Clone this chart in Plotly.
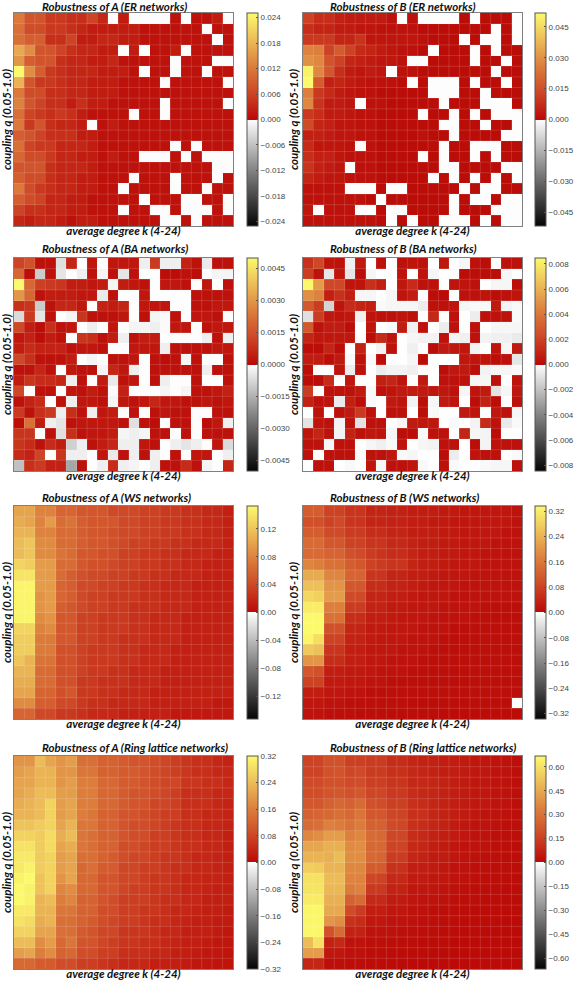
import numpy as np
import plotly.graph_objects as go

W = -0.3  # cell just below zero (drawn white)

k_values = list(range(4, 25))
q_values = [round(1.0 - 0.05 * i, 2) for i in range(20)]  # top row first

# ER, A (units 0.001)
er_a = [
[12,8,8,5,5,4,4,6,3,W,2,W,W,W,W,1,W,1,1,2,W],
[11,7,7,5,5,4,3,2,2,2,2,2,1,1,1,1,1,1,W,1,1],
[11,9,9,4,4,6,2,2,3,3,2,2,1,1,1,1,1,1,1,W,1],
[17,14,8,8,6,4,3,3,2,2,W,2,W,1,1,2,W,1,1,1,1],
[15,9,8,8,4,3,3,2,2,3,1,1,1,1,1,W,1,1,1,W,W],
[25,14,9,5,4,3,3,3,2,2,2,1,W,1,1,W,1,1,W,1,1],
[18,8,5,5,4,3,3,2,2,2,1,1,1,1,W,1,1,1,1,1,W],
[12,7,7,4,4,3,3,2,2,2,1,1,1,1,1,1,1,1,1,1,1],
[13,8,6,4,4,2,4,2,2,1,1,1,1,1,W,1,1,1,1,1,W],
[11,6,5,4,5,4,2,1,1,1,1,W,1,1,W,1,1,1,1,1,1],
[12,5,8,4,3,3,2,W,1,2,1,1,1,1,1,1,1,1,1,1,1],
[9,8,6,4,4,4,2,2,1,1,1,1,1,1,1,1,1,1,1,1,1],
[11,6,5,5,3,3,3,2,1,1,1,1,1,1,1,W,1,W,1,1,1],
[10,7,7,5,3,3,2,2,1,2,1,1,W,W,W,1,W,1,W,W,W],
[8,8,8,4,3,3,3,2,1,1,1,1,1,1,1,1,1,1,1,W,W],
[9,7,7,4,3,3,2,2,1,1,1,W,1,1,1,W,1,1,1,W,1],
[12,7,5,4,3,3,2,2,1,1,W,1,1,1,1,W,1,1,W,1,1],
[9,7,6,3,3,2,2,1,1,1,1,1,W,1,1,1,W,W,1,1,W],
[6,4,4,3,3,2,2,1,1,1,W,1,1,W,W,1,W,W,W,1,W],
[3,2,3,3,2,1,2,2,1,1,1,1,1,1,W,W,1,W,1,1,1],
]

# ER, B (units 0.001)
er_b = [
[12,8,8,5,4,4,4,4,2,W,2,W,W,W,W,1,W,1,1,1,W],
[8,6,6,4,4,3,3,2,2,2,2,1,1,1,1,1,1,1,W,1,W],
[10,10,10,6,6,9,3,3,3,3,3,2,1,1,1,W,1,W,W,1,W],
[27,26,12,18,12,7,6,4,3,2,2,1,W,1,1,1,W,1,W,1,1],
[30,28,16,12,6,5,4,3,3,2,W,W,1,1,1,1,W,1,1,W,1],
[50,28,17,8,4,3,4,3,W,2,2,1,1,1,1,1,1,1,W,1,1],
[52,18,5,6,4,3,2,2,2,1,W,1,W,W,W,1,W,1,1,W,1],
[26,10,7,4,3,2,2,1,1,1,1,1,W,W,W,1,1,W,1,1,1],
[28,9,4,4,3,W,2,2,1,1,1,1,1,W,1,1,1,W,W,W,1],
[10,8,4,4,3,2,2,1,1,1,1,W,1,1,W,1,W,1,W,W,W],
[14,6,5,3,3,2,2,1,1,1,1,1,1,W,W,1,1,W,1,1,W],
[5,5,4,3,3,2,2,1,1,1,1,2,1,1,W,1,1,1,1,W,W],
[7,3,3,3,2,W,2,1,1,1,1,1,1,W,1,1,W,W,W,1,1],
[8,5,5,3,2,2,2,1,1,1,1,W,1,W,1,1,W,1,W,1,1],
[9,5,4,3,W,2,2,1,1,1,1,1,1,W,W,1,1,1,1,W,W],
[6,4,3,3,2,2,2,1,1,1,1,1,W,1,W,1,W,1,W,1,W],
[2,2,2,2,W,W,W,1,W,W,1,1,1,1,1,W,1,W,W,1,1],
[2,2,2,2,2,2,1,W,1,1,1,1,1,1,W,1,W,W,1,W,W],
[3,W,2,2,2,W,W,1,W,W,1,1,1,1,W,1,1,1,W,W,W],
[2,2,2,2,2,2,2,1,W,1,W,1,1,W,W,W,1,W,1,W,W],
]

# BA, A (units 0.0001)
ba_a = [
[12,15,2,2,-6,6,W,3,W,3,3,3,-3,10,-3,-3,5,2,-4,2,2],
[20,1,-10,2,-5,W,-3,2,-2,2,-5,2,W,W,1,1,2,1,W,-2,-2],
[50,20,11,10,9,4,4,3,4,-2,4,3,2,W,3,3,2,W,3,W,2],
[30,20,2,4,4,4,3,3,-4,2,W,W,3,W,W,W,W,2,2,2,2],
[8,9,-10,2,6,6,3,W,5,4,6,W,3,3,3,W,W,2,2,3,3],
[-7,10,-5,2,W,-2,9,2,2,2,3,W,2,-2,-1,2,W,3,3,2,W],
[13,4,1,8,2,3,W,-3,W,3,W,-2,-2,-3,-1,3,3,W,2,3,3],
[3,5,1,4,2,W,9,8,2,4,-3,2,4,4,W,W,W,W,-3,2,-3],
[4,7,5,5,5,2,3,3,2,W,W,3,3,3,-3,2,2,2,2,3,3],
[13,8,2,2,2,4,W,-2,W,2,2,3,W,2,1,2,-2,2,W,W,2],
[2,2,6,2,W,3,2,2,-2,6,3,-3,W,2,2,2,2,2,-3,2,2],
[4,9,7,7,6,-3,2,W,4,-4,2,3,W,2,-3,W,W,2,W,W,2],
[13,W,2,2,W,3,2,4,2,-1,5,W,W,W,-2,W,-2,2,2,3,5],
[2,5,7,W,2,-3,3,3,2,-2,3,2,3,6,3,3,2,2,3,2,3],
[10,2,8,10,-3,8,2,-3,3,4,W,2,W,2,3,2,2,W,W,2,2],
[1,22,4,-3,-5,2,3,3,3,3,2,-6,2,1,W,2,2,W,1,3,-3],
[9,9,W,2,-6,8,2,3,3,4,-2,-3,-2,2,2,W,2,W,2,2,2],
[9,7,2,7,4,-9,-3,2,4,6,-3,-3,3,2,W,-3,-5,-3,W,3,-7],
[7,5,12,W,9,-3,-3,W,3,-4,2,-3,2,-3,W,2,W,3,3,W,-3],
[-12,8,10,5,5,-17,2,W,-3,7,-3,-2,W,-3,2,2,7,2,-2,W,6],
]

# BA, B (units 0.0001)
ba_b = [
[14,22,4,3,-5,6,W,3,W,3,4,3,W,5,W,-3,3,2,W,3,3],
[18,3,-8,4,-8,2,-3,W,W,4,W,4,-3,W,W,2,2,2,2,-3,W],
[84,52,22,22,4,4,14,8,W,5,12,3,3,W,4,4,3,W,-3,-3,2],
[48,44,8,14,8,-3,-3,W,-3,4,7,W,2,1,W,3,3,4,2,3,4],
[28,18,-14,4,12,10,8,-2,-3,-3,-3,-6,3,3,4,-3,-2,-2,6,-4,-2],
[-10,18,5,4,5,-5,4,3,3,4,3,W,11,W,3,W,-6,3,3,3,-2],
[28,3,7,7,2,W,4,W,-2,7,-5,3,W,-6,3,W,3,W,-3,-3,-3],
[10,5,5,5,5,W,2,12,4,W,-3,-4,-4,3,-4,-5,3,-4,-5,-5,-7],
[2,2,10,2,W,9,W,-4,3,W,-5,W,2,6,5,5,-4,W,4,-3,6],
[7,7,2,6,-2,3,-2,2,W,W,-3,2,W,W,W,5,4,4,2,3,-8],
[2,W,W,4,-6,3,W,-6,-4,-4,-5,W,W,2,5,6,2,-4,-3,-3,-2],
[2,2,12,W,5,W,W,8,10,4,W,6,W,3,3,3,-3,-3,3,W,4],
[18,W,3,3,3,6,-2,3,4,6,7,6,5,5,3,-3,4,6,-9,-3,5],
[9,3,4,-7,8,2,-2,W,6,4,-4,2,-3,6,4,W,2,9,2,W,3],
[W,3,W,3,6,17,3,W,3,3,W,2,-2,W,W,6,4,W,5,3,-3],
[-9,4,3,-4,3,-9,3,3,W,-3,6,5,5,W,-2,W,-4,12,3,-7,-2],
[4,10,3,-4,9,3,5,4,-3,2,2,-2,3,3,W,10,-3,-4,2,W,W],
[3,3,-3,3,3,W,-3,-5,-2,4,W,-3,-4,3,3,W,2,-4,3,3,3],
[3,W,3,3,3,-2,3,3,5,-2,-3,W,W,2,-6,W,4,3,3,W,-2],
[W,3,3,W,-2,W,4,-3,3,3,4,-2,W,3,-2,W,W,-2,-3,-3,3],
]

# WS, A (units 0.01)
ws_a = [
[10,10,8,8,6,6,5,5,5,4,4,4,3.5,3.5,3,3,2.5,2.5,2,2,1.5],
[10.5,10,8,9.5,6.5,7,5.5,5,5,5,4,4,3.5,3.5,3,3,2.5,2.5,2,2,1.5],
[11,11,8,8,6.5,6.5,5.5,5,5,4.5,4,4,3.5,3.5,3,3,2.5,2.5,2,2,1.5],
[11.5,12,8.5,8.5,6.5,6.5,5.5,5,5,4.5,4,3.5,3.5,3,3,2.5,2.5,2,2,2,1.5],
[11.5,12,8.5,8.5,7,6.5,5,5,4.5,4.5,3.5,3.5,3,3,2.5,2.5,2,2,2,1.5,1.5],
[13,12.5,9.5,9.5,6.5,6.5,5,4.5,4.5,4,3.5,3.5,3,3,2.5,2.5,2,2,1.5,1.5,1.5],
[14,14,9.5,9.5,6.5,5.5,4.5,4,4,3.5,3.5,3,3,2.5,2.5,2,2,2,1.5,1.5,1.5],
[15,15,9.5,9.5,6,5.5,4,4,3.5,3.5,3,3,2.5,2.5,2,2,2,1.5,1.5,1.5,1.5],
[15,15,9,9.5,6,5.5,4,3.5,3.5,3,3,3,2.5,2.5,2,2,2,1.5,1.5,1.5,1.5],
[15,15,9,9.5,5.5,5,4,3.5,3.5,3,3,2.5,2.5,2.5,2,2,2,1.5,1.5,1.5,1.5],
[15,15,8.5,9,5,5,3.5,3.5,3,3,3,2.5,2.5,2,2,2,1.5,1.5,1.5,1.5,1.5],
[13,13,8,8.5,5,5,3.5,3.5,3,3,3,2.5,2.5,2,2,2,1.5,1.5,1.5,1.5,1.5],
[12.5,12.5,7.5,7.5,5,5,3.5,3.5,3,3,2.5,2.5,2.5,2,2,2,1.5,1.5,1.5,1.5,1.5],
[12.5,12.5,7.5,7.5,4.5,4.5,3.5,3,3,3,2.5,2.5,2,2,2,1.5,1.5,1.5,1.5,1.5,1.5],
[12,11,7,7,4.5,4.5,3.5,3,3,3,2.5,2.5,2,2,2,1.5,1.5,1.5,1.5,1.5,1.5],
[11,11,6.5,6.5,4.5,4.5,3.5,3,3,2.5,2.5,2,2,2,1.5,1.5,1.5,1.5,1.5,1.5,1.5],
[10.5,10.5,6.5,6.5,4.5,4.5,3,3,2.5,2.5,2.5,2,2,2,1.5,1.5,1.5,1.5,1.5,1.5,1.5],
[10,10,6,6,4.5,5,3,3,2.5,2.5,2,2,2,1.5,1.5,1.5,1.5,1.5,1.5,1.5,1.5],
[8.5,8.5,5.5,5.5,4,4,3,2.5,2.5,2,2,2,2,1.5,1.5,1.5,1.5,1.5,1.5,1,1],
[6,6,4,4,3,3,2.5,2,2,2,1.5,1.5,1.5,1.5,1.5,1,1,1,1,1,1],
]

# WS, B (units 0.01)
ws_b = [
[12,12,8,8,6,6,4,4,3.5,3.5,3,3,3,2.5,2.5,2,2,2,2,2,1.5],
[10,10,8,9,6,6,4,4,3.5,3.5,3,3,2.5,2.5,2,2,2,2,2,2,1.5],
[12,12,9,9,7,7,5,5,4,4,3,3,3,2.5,2.5,2,2,2,2,1.5,1.5],
[14,14,11,11,8,8,6,6,4.5,4.5,3.5,3,3,2.5,2.5,2,2,2,1.5,1.5,1.5],
[14,14,13,13,10,9,7,6,5,5,4,3,3,2.5,2.5,2,2,1.5,1.5,1.5,1.5],
[18,17,15,15,12,11,8,7,6,6,4,3,3,2.5,2,2,2,1.5,1.5,1.5,1.5],
[23,23,18,18,13,13,6,6,4,4,3,3,2.5,2,2,2,1.5,1.5,1.5,1.5,1.5],
[26,26,20,20,11,11,5,5,3.5,3.5,3,2.5,2,2,2,1.5,1.5,1.5,1.5,1.5,1.5],
[29,28,21,21,9,9,4,4,3,3,2.5,2,2,2,1.5,1.5,1.5,1.5,1.5,1.5,1.5],
[32,32,17,17,7,7,3.5,3.5,2.5,2.5,2,2,2,1.5,1.5,1.5,1.5,1,1,1,1],
[34,34,15,15,5,5,3,3,2.5,2,2,2,1.5,1.5,1.5,1.5,1,1,1,1,1],
[34,34,10,10,4,4,2.5,2.5,2,2,2,1.5,1.5,1.5,1,1,1,1,1,1,1],
[33,30,8,8,3.5,3.5,2.5,2,2,2,1.5,1.5,1.5,1,1,1,1,1,1,1,1],
[27,26,6,6,3,3,2,2,2,1.5,1.5,1.5,1,1,1,1,1,1,1,1,1],
[20,20,5,5,3,3,2,2,1.5,1.5,1.5,1,1,1,1,1,1,1,1,1,1],
[11,10,3,3,2.5,2.5,2,1.5,1.5,1.5,1,1,1,1,1,1,1,1,1,1,1],
[8,8,2.5,2.5,2,2,1.5,1.5,1,1,1,1,1,1,1,1,1,1,1,1,1],
[3,3,2,2,1.5,1.5,1,1,1,1,1,1,1,1,1,1,1,1,1,1,1],
[2,2,1.5,1.5,1,1,1,1,1,1,.8,.8,.8,.8,.8,.8,.8,.8,.8,.8,W],
[1.5,1.5,1,1,1,.8,.8,.8,.8,.8,.8,.8,.8,.5,.5,.5,.5,.5,.5,.5,.5],
]

# Ring lattice, A (units 0.01)
ring_a = [
[19,19,24,21,19,20,14,14,12,12,11,10,10,9,8,7,6,5,5,4,3.5],
[20,21,23,23,19,19,15,15,12,12,11,11,10,9,8,7,6,5,5,4,4],
[21,21,23,23,19,20,16,16,13,13,11,11,10,9,8,8,6,6,5,5,4],
[21,22,24,24,20,20,16,16,13,13,11,10,10,9,8,7,5,5,5,4,4],
[22,23,24,27,20,21,16,16,13,13,11,10,10,8,8,7,5,5,5,4,3.5],
[23,23,24,27,20,21,16,15,12,12,10,10,9,8,7,7,5,5,4,4,3.5],
[25,25,26,27,21,23,15,15,12,12,10,9,9,8,7,6,5,5,4,4,3.5],
[27,27,26,28,22,24,15,14,12,12,10,9,9,7,7,6,5,5,4,4,3],
[29,29,26,28,21,22,15,14,12,12,9,9,8,7,7,6,5,5,4,4,3],
[30,30,26,27,20,21,14,14,12,11,9,8,8,7,6,6,5,4,4,3.5,3],
[30,31,26,27,20,21,13,14,11,11,8,8,7,7,6,5,5,4,4,3.5,3],
[31,32,25,27,19,21,13,13,10,10,8,8,7,6,6,5,4,4,3.5,3.5,3],
[32,31,25,27,17,18,13,13,10,10,8,7,7,6,6,5,4,4,3.5,3,3],
[32,31,23,24,16,17,12,12,10,9,7,7,7,6,5,5,4,4,3,3,3],
[30,30,23,23,15,15,12,12,9,9,7,7,6,6,5,4,4,3.5,3,3,2.5],
[29,28,22,23,14,14,12,11,9,8,7,7,6,5,5,4,3.5,3,3,2.5,2.5],
[27,27,21,21,14,14,11,10,8,8,6,6,6,5,4,4,3,3,3,2.5,2],
[24,24,18,20,13,15,10,10,8,7,6,6,5,5,4,3.5,3,3,2.5,2,2],
[20,21,16,18,12,13,9,9,7,7,5,5,5,4,4,3,3,2.5,2,2,1.5],
[13,13,11,11,9,9,7,7,6,5,4,4,4,3,3,3,2.5,2,2,1.5,1.5],
]

# Ring lattice, B (units 0.01)
ring_b = [
[16,16,20,20,15,15,14,14,10,10,8,7,7,6,6,5,4,4,3,3,2],
[16,16,20,21,17,18,14,14,11,11,9,8,7,6,6,5,4,4,3,3,2],
[18,18,20,20,18,19,15,15,12,12,9,9,8,7,6,5,4,4,3,3,2],
[19,19,21,22,20,22,17,17,13,13,10,9,8,7,6,5,4,4,3,3,2],
[22,22,25,27,25,28,20,19,15,15,11,10,8,7,6,5,4,4,3,3,2],
[25,26,27,29,27,31,22,22,17,16,11,11,8,7,6,5,4,3,3,2.5,2],
[28,29,34,33,30,33,25,25,18,17,11,10,8,7,5,4,3,3,2.5,2,2],
[36,38,42,42,34,36,28,27,17,17,10,9,7,6,5,4,3,3,2,2,2],
[44,44,47,47,37,38,27,27,16,16,9,8,6,5,4,3,3,2.5,2,2,1.5],
[48,48,47,50,38,38,27,26,14,14,8,7,5,5,4,3,2.5,2,2,1.5,1.5],
[55,54,48,48,36,36,23,23,11,11,6,6,5,4,3,3,2,2,1.5,1.5,1.5],
[60,60,50,50,35,35,17,16,9,9,5,5,4,4,3,2.5,2,1.5,1.5,1.5,1],
[61,61,49,49,33,35,13,13,7,7,4,4,3.5,3,2.5,2,1.5,1.5,1.5,1,1],
[63,63,47,47,25,28,9,9,5,5,3.5,3,3,2.5,2,1.5,1.5,1,1,1,1],
[66,66,45,45,18,14,6,6,4,4,3,2.5,2,2,1.5,1.5,1,1,1,1,1],
[66,66,40,38,11,10,4,4,3,3,2.5,2,2,1.5,1.5,1,1,1,1,.8,.8],
[66,66,20,28,7,7,3,3,2.5,2,2,1.5,1.5,1,1,1,1,.8,.8,.8,.8],
[50,60,7,9,3,3,2,2,1.5,1.5,1.5,1,1,1,.8,.8,.8,.8,.8,.8,.5],
[42,42,4,4,2.5,2.5,1.5,1.5,1,1,1,1,.8,.8,.8,.8,.5,.5,.5,.5,.5],
[8,8,2,2,1.5,1.5,1,1,1,.8,.8,.8,.5,.5,.5,.5,.5,.5,.5,.5,.5],
]

titles = ["Robustness of A (ER networks)", "Robustness of B (ER networks)",
          "Robustness of A (BA networks)", "Robustness of B (BA networks)",
          "Robustness of A (WS networks)", "Robustness of B (WS networks)",
          "Robustness of A (Ring lattice networks)", "Robustness of B (Ring lattice networks)"]
panels = [er_a, er_b, ba_a, ba_b, ws_a, ws_b, ring_a, ring_b]
units = [1e-3, 1e-3, 1e-4, 1e-4, 1e-2, 1e-2, 1e-2, 1e-2]
zmaxes = [0.0251, 0.0517, 0.0050, 0.00847, 0.153, 0.337, 0.32, 0.668]
cbar_ticks = [
    [0.024, 0.018, 0.012, 0.006, 0, -0.006, -0.012, -0.018, -0.024],
    [0.045, 0.030, 0.015, 0, -0.015, -0.030, -0.045],
    [0.0045, 0.0030, 0.0015, 0, -0.0015, -0.0030, -0.0045],
    [0.008, 0.006, 0.004, 0.002, 0, -0.002, -0.004, -0.006, -0.008],
    [0.12, 0.08, 0.04, 0, -0.04, -0.08, -0.12],
    [0.32, 0.24, 0.16, 0.08, 0, -0.08, -0.16, -0.24, -0.32],
    [0.32, 0.24, 0.16, 0.08, 0, -0.08, -0.16, -0.24, -0.32],
    [0.60, 0.45, 0.30, 0.15, 0, -0.15, -0.30, -0.45, -0.60],
]
cbar_formats = [".3f", ".3f", ".4f", ".3f", ".2f", ".2f", ".2f", ".2f"]

# layout, in pixels of the 574x982 page
W_PX, H_PX = 574, 982
left_px = [(14, 233), (303, 522)]
cbar_px = [247, 535]
rows_px = [(13, 226), (258, 471), (506, 719), (756, 969)]
title_x = [40, 328]
title_y = [6.5, 249, 498, 747]

colorscale = [
    [0.0, "rgb(5,5,5)"], [0.25, "rgb(125,125,125)"], [0.5, "rgb(255,255,255)"],
    [0.5, "rgb(186,8,6)"], [0.625, "rgb(205,70,38)"], [0.75, "rgb(220,125,60)"],
    [0.875, "rgb(236,188,88)"], [1.0, "rgb(252,250,108)"],
]

FONT = "Lato"
LABEL_SIZE = 11.5
fig = go.Figure()
layout_axes = {}
annotations = []
edges_x = [v - 0.5 for v in k_values] + [k_values[-1] + 0.5]
edges_y = sorted(q + 0.025 for q in q_values)
edges_y = [q_values[-1] - 0.025] + edges_y

for i, (data, unit, zm) in enumerate(zip(panels, units, zmaxes)):
    for r, row in enumerate(data):
        if len(row) != 21:
            raise ValueError(f"panel {i} row {r} has {len(row)}")
    if len(data) != 20:
        raise ValueError(f"panel {i} has {len(data)} rows")
    c, r = i % 2, i // 2
    sfx = "" if i == 0 else str(i + 1)
    x0, x1 = left_px[c]
    y0, y1 = rows_px[r]
    z = (np.array(data, dtype=float) * unit).tolist()
    fig.add_trace(go.Heatmap(
        x=k_values, y=q_values, z=z, xaxis=f"x{sfx}", yaxis=f"y{sfx}",
        zmin=-zm, zmax=zm, colorscale=colorscale, hoverongaps=False,
        colorbar=dict(
            x=cbar_px[c] / W_PX, xanchor="left", xpad=0, ypad=0,
            y=1 - (y0 + y1) / 2 / H_PX, yanchor="middle",
            len=(y1 - y0) / H_PX, lenmode="fraction",
            thickness=11, thicknessmode="pixels",
            outlinecolor="#555555", outlinewidth=1,
            tickmode="array", tickvals=cbar_ticks[i], tickformat=cbar_formats[i],
            ticks="inside", ticklen=2, tickcolor="#555555", tickwidth=1,
            tickfont=dict(family="Liberation Sans", size=8, color="#444444"),
        ),
    ))
    # faint white cell edges, as in the reference
    gx, gy = [], []
    for e in edges_x[1:-1]:
        gx += [e, e, None]
        gy += [edges_y[0], edges_y[-1], None]
    for e in edges_y[1:-1]:
        gx += [edges_x[0], edges_x[-1], None]
        gy += [e, e, None]
    fig.add_trace(go.Scatter(
        x=gx, y=gy, mode="lines", xaxis=f"x{sfx}", yaxis=f"y{sfx}",
        line=dict(color="rgba(255,255,255,0.14)", width=1),
        hoverinfo="skip", showlegend=False,
    ))
    layout_axes[f"xaxis{sfx}"] = dict(
        domain=[x0 / W_PX, x1 / W_PX], range=[edges_x[0], edges_x[-1]],
        anchor=f"y{sfx}", showticklabels=False, ticks="", showgrid=False, zeroline=False,
        showline=True, mirror=True, linecolor="#808080", linewidth=1,
        title=dict(text="average degree k (4-24)", standoff=0,
                   font=dict(family=FONT, size=LABEL_SIZE, color="#111111", weight="bold", style="italic")),
    )
    layout_axes[f"yaxis{sfx}"] = dict(
        domain=[1 - y1 / H_PX, 1 - y0 / H_PX], range=[edges_y[0], edges_y[-1]],
        anchor=f"x{sfx}", showticklabels=False, ticks="", showgrid=False, zeroline=False,
        showline=True, mirror=True, linecolor="#808080", linewidth=1,
        title=dict(text="coupling q (0.05-1.0)", standoff=0,
                   font=dict(family=FONT, size=LABEL_SIZE, color="#111111", weight="bold", style="italic")),
    )
    annotations.append(dict(
        text=titles[i], xref="paper", yref="paper", showarrow=False,
        x=title_x[c] / W_PX, y=1 - title_y[r] / H_PX, xanchor="left", yanchor="middle",
        font=dict(family=FONT, size=LABEL_SIZE, color="#111111", weight="bold", style="italic"),
    ))

fig.update_layout(
    width=W_PX, height=H_PX, margin=dict(l=0, r=0, t=0, b=0, autoexpand=False),
    paper_bgcolor="white", plot_bgcolor="white", showlegend=False,
    annotations=annotations, **layout_axes,
)
fig.write_html("out.html", config={"displayModeBar": False},
               post_script="document.body.style.margin='0';document.body.style.overflow='hidden';")
